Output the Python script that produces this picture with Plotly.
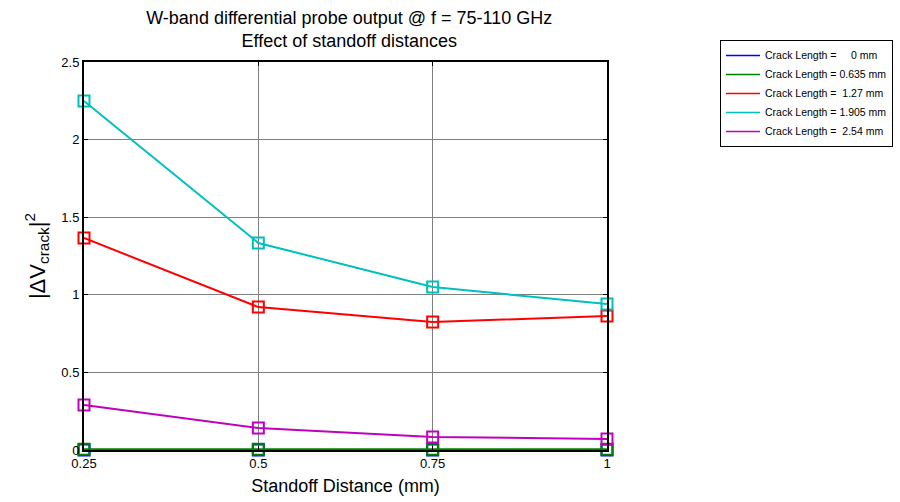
import plotly.graph_objects as go

standoff = [0.25, 0.5, 0.75, 1.0]
crack_0 = [0.0, 0.0, 0.0, 0.0]
crack_0635 = [0.005, 0.005, 0.005, 0.005]
crack_127 = [1.366, 0.921, 0.825, 0.863]
crack_1905 = [2.249, 1.334, 1.050, 0.940]
crack_254 = [0.290, 0.142, 0.084, 0.071]

names = ["Crack Length =     0 mm", "Crack Length = 0.635 mm", "Crack Length =  1.27 mm",
         "Crack Length = 1.905 mm", "Crack Length =  2.54 mm"]
series = [crack_0, crack_0635, crack_127, crack_1905, crack_254]
colors = ["#0000FF", "#008000", "#FF0000", "#00BFBF", "#BF00BF"]

fig = go.Figure()
for n, s, c in zip(names, series, colors):
    fig.add_trace(go.Scatter(
        x=standoff, y=s, name=n, mode="lines+markers", showlegend=False,
        line=dict(color=c, width=2),
        marker=dict(symbol="square-open", size=11, color=c, line=dict(width=2, color=c)),
        cliponaxis=False,
    ))
# legend entries: lines only, as in the reference
for n, c in zip(names, colors):
    fig.add_trace(go.Scatter(
        x=[None], y=[None], name=n, mode="lines",
        line=dict(color=c, width=1.5), showlegend=True, hoverinfo="skip",
    ))

font = "Liberation Sans, Arial, sans-serif"
fig.update_layout(
    width=900, height=502,
    paper_bgcolor="white", plot_bgcolor="white",
    margin=dict(l=84, r=293, t=62, b=52, autoexpand=False),
    font=dict(family=font, color="black"),
    title=dict(text="W-band differential probe output @ f = 75-110 GHz<br>Effect of standoff distances",
               x=0.388, xanchor="center", yref="container", y=0.953, yanchor="middle",
               font=dict(size=18, family=font, color="black")),
    showlegend=True,
    legend=dict(x=1.216, y=1.057, xanchor="left", yanchor="top",
                bordercolor="black", borderwidth=1, bgcolor="white",
                font=dict(size=10.5, family=font), tracegroupgap=0, itemwidth=34),
)
fig.update_xaxes(
    range=[0.25, 1.0], tickvals=[0.25, 0.5, 0.75, 1.0], ticktext=["0.25", "0.5", "0.75", "1"],
    showgrid=True, gridcolor="#808080", gridwidth=1, automargin=False,
    showline=True, linecolor="black", linewidth=2, mirror="ticks",
    ticks="inside", ticklen=4, tickcolor="black",
    tickfont=dict(size=13), zeroline=False,
    title=dict(text="Standoff Distance (mm)", font=dict(size=18), standoff=10),
)
fig.update_yaxes(
    range=[0, 2.5], tickvals=[0, 0.5, 1, 1.5, 2, 2.5], ticktext=["0", "0.5", "1", "1.5", "2", "2.5"],
    showgrid=True, gridcolor="#808080", gridwidth=1, automargin=False,
    showline=True, linecolor="black", linewidth=2, mirror="ticks",
    ticks="inside", ticklen=4, tickcolor="black",
    tickfont=dict(size=13), zeroline=False,
    title=dict(text="|ΔV<sub>crack</sub>|<sup>2</sup>", font=dict(size=22), standoff=10),
)
fig.write_html("out.html")
